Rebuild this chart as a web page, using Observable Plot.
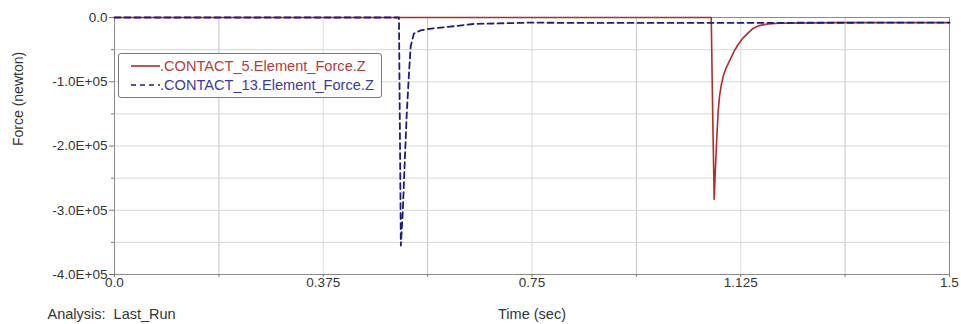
<!DOCTYPE html>
<html>
<head>
<meta charset="utf-8">
<script src="https://cdn.jsdelivr.net/npm/d3@7"></script>
<script src="https://cdn.jsdelivr.net/npm/@observablehq/plot@0.6"></script>
<style>
  html, body { margin: 0; padding: 0; background: #fff; }
  #wrap { position: relative; width: 961px; height: 324px; font-family: "Liberation Sans", Arial, sans-serif; }
  #legend { position: absolute; left: 118px; top: 53px; width: 264px; height: 45px; border: 1px solid #7a7a7a; border-radius: 3px; background: #fff; box-sizing: border-box; font-size: 14.6px; }
  #legend .row { position: absolute; left: 0; height: 18px; display: flex; align-items: center; white-space: nowrap; }
  #legend svg { display: block; margin-left: 12px; margin-right: 0px; }
</style>
</head>
<body>
<div id="wrap"></div>
<script>
// ---- data ----
const seriesNames = [".CONTACT_5.Element_Force.Z", ".CONTACT_13.Element_Force.Z"];

const redTime  = [0, 1.072, 1.0746, 1.0773, 1.079, 1.081, 1.083, 1.0845, 1.087, 1.090, 1.094, 1.099, 1.104, 1.108, 1.114, 1.1205, 1.129, 1.1385, 1.147, 1.1565, 1.17, 1.1925, 1.30, 1.5];
const redForce = [0, 0, -1.5e5, -2.83e5, -2.45e5, -2.05e5, -1.70e5, -1.45e5, -1.22e5, -1.05e5, -0.90e5, -0.78e5, -0.69e5, -0.62e5, -0.51e5, -0.42e5, -0.32e5, -0.24e5, -0.17e5, -0.13e5, -0.105e5, -0.09e5, -0.08e5, -0.08e5];

const blueTime  = [0, 0.511, 0.5144, 0.518, 0.5216, 0.525, 0.5288, 0.532, 0.5378, 0.550, 0.572, 0.595, 0.646, 0.748, 0.85, 1.5];
const blueForce = [0, 0, -3.55e5, -3.0e5, -2.2e5, -1.5e5, -0.9e5, -0.45e5, -0.25e5, -0.20e5, -0.17e5, -0.15e5, -0.10e5, -0.08e5, -0.085e5, -0.08e5];

const xTicks = [0, 0.375, 0.75, 1.125, 1.5];
const xTickLabels = ["0.0", "0.375", "0.75", "1.125", "1.5"];
const xMajorGrid = [0.375, 0.75, 1.125];
const xMinorTicks = [0.1875, 0.5625, 0.9375, 1.3125];

const yTicks = [0, -1e5, -2e5, -3e5, -4e5];
const yTickLabels = ["0.0", "-1.0E+05", "-2.0E+05", "-3.0E+05", "-4.0E+05"];
const yGrid = [-0.5e5, -1e5, -1.5e5, -2e5, -2.5e5, -3e5, -3.5e5];
const yMinorTicks = [-0.5e5, -1.5e5, -2.5e5, -3.5e5];

const xLabel = ["Time (sec)"];
const yLabel = ["Force (newton)"];
const footnote = ["Analysis:  Last_Run"];

const redColor = "#b22b2b";
const blueColor = "#1c1c7e";

const red = redTime.map((t, i) => ({t, f: redForce[i]}));
const blue = blueTime.map((t, i) => ({t, f: blueForce[i]}));

const chart = Plot.plot({
  width: 961,
  height: 324,
  marginLeft: 114,
  marginRight: 12,
  marginTop: 17,
  marginBottom: 50,
  style: {fontFamily: '"Liberation Sans", Arial, sans-serif', fontSize: "13.5px", color: "#333", background: "#fff"},
  x: {domain: [0, 1.5]},
  y: {domain: [-4e5, 0]},
  marks: [
    Plot.gridX(xMinorTicks, {stroke: "#c4c4c4", strokeOpacity: 1}),
    Plot.gridX(xMajorGrid, {stroke: "#dadada", strokeOpacity: 1}),
    Plot.gridY(yGrid, {stroke: "#d6d6d6", strokeOpacity: 1}),
    Plot.frame({stroke: "#8a8a8a"}),
    Plot.axisX(xMinorTicks, {tickSize: 3, tickFormat: () => "", stroke: "#777", label: null}),
    Plot.axisX(xTicks, {
      tickFormat: d => xTickLabels[xTicks.indexOf(d)],
      tickSize: 3, tickPadding: 0, stroke: "#777", label: null
    }),
    Plot.axisY(yTicks, {
      tickFormat: d => yTickLabels[yTicks.indexOf(d)],
      tickSize: 5, tickPadding: 2, stroke: "#777", label: null
    }),
    Plot.axisY(yMinorTicks, {tickSize: 3, tickFormat: () => "", stroke: "#777", label: null}),
    Plot.line(red, {x: "t", y: "f", stroke: redColor, strokeWidth: 1.6}),
    Plot.line(blue, {x: "t", y: "f", stroke: blueColor, strokeWidth: 1.8, strokeDasharray: "6,4"}),
    Plot.text(xLabel, {text: d => d, frameAnchor: "bottom", dy: 40, lineAnchor: "middle", fill: "#333", fontSize: 14.5}),
    Plot.text(yLabel, {text: d => d, frameAnchor: "left", dx: -96, rotate: -90, lineAnchor: "middle", fill: "#333", fontSize: 14}),
    Plot.text(footnote, {text: d => d, frameAnchor: "bottom-left", dx: -67, dy: 40, lineAnchor: "middle", textAnchor: "start", fill: "#333", fontSize: 14.5})
  ]
});

const wrap = document.getElementById("wrap");
wrap.appendChild(chart);

// legend overlay
const legend = document.createElement("div");
legend.id = "legend";
const rows = [
  {name: seriesNames[0], color: redColor, dash: null, top: 3, text: "#b83a3a"},
  {name: seriesNames[1], color: blueColor, dash: "5,4", top: 22, text: "#3a3aa0"}
];
for (const r of rows) {
  const row = document.createElement("div");
  row.className = "row";
  row.style.top = r.top + "px";
  row.innerHTML = `<svg width="29" height="10"><line x1="0" x2="29" y1="5" y2="5" stroke="${r.color}" stroke-width="1.6" ${r.dash ? `stroke-dasharray="${r.dash}"` : ""}/></svg><span style="color:${r.text}">${r.name}</span>`;
  legend.appendChild(row);
}
wrap.appendChild(legend);
</script>
</body>
</html>
